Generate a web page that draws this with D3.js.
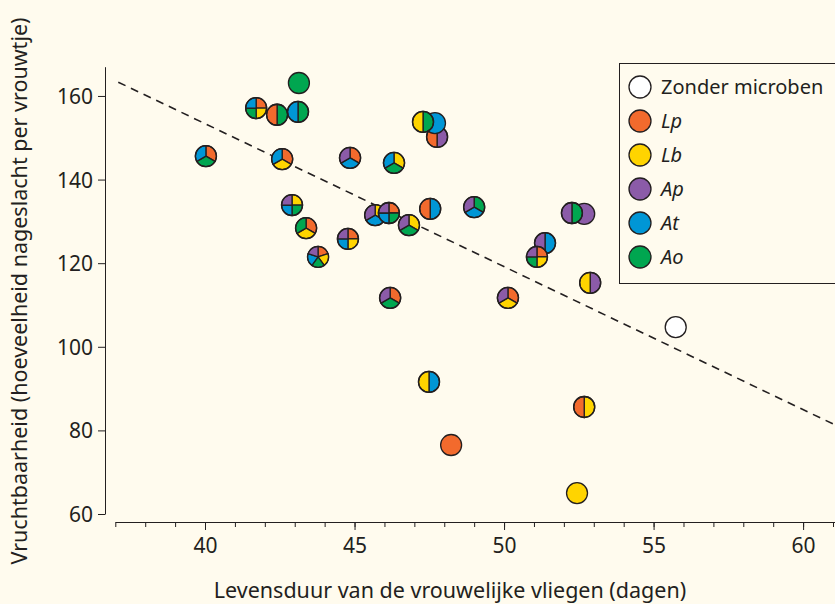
<!DOCTYPE html>
<html>
<head>
  <meta charset="utf-8">
  <script src="https://d3js.org/d3.v7.min.js"></script>
  <style>
    body { margin: 0; background: #fffbee; }
    text { font-family: "Noto Sans", sans-serif; fill: #231f20; }
  </style>
</head>
<body>
<script>
  // lifespan (days) and offspring per female, one entry per fly line
  var lifespan  = [43.14, 41.71, 42.41, 43.11, 40.03, 42.58, 44.85, 46.32, 47.76, 47.69, 47.29,
                   42.91, 43.38, 44.78, 43.78, 46.19, 45.69, 46.15, 46.82, 47.53, 49.00,
                   47.49, 48.23, 52.68, 52.44, 52.68, 52.27, 51.37, 51.10, 52.88, 50.13, 55.74];
  var offspring = [163.1, 157.1, 155.5, 156.2, 145.6, 144.9, 145.2, 144.0, 150.2, 153.5, 153.8,
                   133.9, 128.4, 125.8, 121.5, 111.7, 131.5, 132.0, 129.1, 133.0, 133.4,
                   91.6, 76.5, 85.6, 65.0, 131.8, 132.0, 124.8, 121.5, 115.3, 111.7, 104.7];
  // microbes in each line, clockwise from 12 o'clock
  var mixes = [["Ao"], ["Lp","Lb","Ao","At"], ["Ao","Lp"], ["Ao","At"], ["Lp","Ao","At"],
               ["Lp","Lb","At"], ["Lp","At","Ap"], ["Lb","Ao","At"], ["Ap","Lp"], ["At"], ["Ao","Lb"],
               ["Lb","Ao","At","Ap"], ["Lp","Lb","Ao"], ["Lp","Lb","At","Ap"], ["Lp","Lb","Ao","At","Ap"],
               ["Lp","Ao","Ap"], ["Lb","At","Ap"], ["Lp","Ao","At","Ap"], ["Lb","Ao","Ap"], ["At","Lp"],
               ["Ao","At","Ap"], ["At","Lb"], ["Lp"], ["Lb","Lp"], ["Lb"], ["Ap"], ["Ao","Ap"],
               ["At","Ap"], ["Lp","Lb","Ao","Ap"], ["Ap","Lb"], ["Lp","Lb","Ap"], ["none"]];

  var legendKeys   = ["none", "Lp", "Lb", "Ap", "At", "Ao"];
  var legendLabels = ["Zonder microben", "Lp", "Lb", "Ap", "At", "Ao"];
  var colours = {none: "#ffffff", Lp: "#f26a2d", Lb: "#ffd400", Ap: "#8b5ba8", At: "#0096d6", Ao: "#00a650"};

  // dashed trend line end points (days, offspring)
  var trendX = [37.1, 61.1];
  var trendY = [163.3, 81.2];

  var xTicks = [40, 45, 50, 55, 60];
  var yTicks = [60, 80, 100, 120, 140, 160];

  var width = 835, height = 604, r = 10.5;
  var ink = "#231f20";

  var svg = d3.select("body").append("svg")
      .attr("width", width)
      .attr("height", height);

  svg.append("rect").attr("width", width).attr("height", height).attr("fill", "#fffbee");

  var x = d3.scaleLinear().domain([37, 61.1]).range([115.3, 836]);
  var y = d3.scaleLinear().domain([60, 167]).range([514, 66.7]);

  // x axis: minor ticks every day, labelled ticks every 5
  var xAxisY = 522;
  var gx = svg.append("g").attr("transform", "translate(0," + xAxisY + ")");
  gx.call(d3.axisBottom(x).tickValues(d3.range(37, 62)).tickSize(5).tickSizeOuter(0).tickFormat(""));
  var gx2 = svg.append("g").attr("transform", "translate(0," + xAxisY + ")");
  gx2.call(d3.axisBottom(x).tickValues(xTicks).tickSize(8).tickSizeOuter(0).tickPadding(8));
  gx2.select(".domain").remove();
  svg.selectAll("g .tick line, g .domain").attr("stroke", ink);
  gx2.selectAll("text").style("font-size", "21px").attr("fill", ink);

  var gy = svg.append("g").attr("transform", "translate(105,0)");
  gy.call(d3.axisLeft(y).tickValues(yTicks).tickSize(7).tickSizeOuter(0).tickPadding(5));
  gy.selectAll("line, .domain").attr("stroke", ink);
  gy.selectAll("text").style("font-size", "21px").attr("fill", ink).attr("dy", "0.36em");

  svg.append("text")
      .attr("x", 450).attr("y", 598)
      .attr("text-anchor", "middle")
      .style("font-size", "21.5px")
      .text("Levensduur van de vrouwelijke vliegen (dagen)");

  svg.append("text")
      .attr("transform", "translate(27,291) rotate(-90)")
      .attr("text-anchor", "middle")
      .style("font-size", "21.5px")
      .text("Vruchtbaarheid (hoeveelheid nageslacht per vrouwtje)");

  // trend line
  svg.append("line")
      .attr("x1", x(trendX[0])).attr("y1", y(trendY[0]))
      .attr("x2", x(trendX[1])).attr("y2", y(trendY[1]))
      .attr("stroke", ink)
      .attr("stroke-width", 1.6)
      .attr("stroke-dasharray", "8,6");

  // pie markers
  var pie = d3.pie().sort(null).value(function() { return 1; });
  var arc = d3.arc().innerRadius(0).outerRadius(r);

  var pts = lifespan.map(function(d, i) { return {x: d, y: offspring[i], mix: mixes[i]}; });

  var marker = svg.selectAll("g.marker").data(pts).enter().append("g")
      .attr("class", "marker")
      .attr("transform", function(d) { return "translate(" + x(d.x) + "," + y(d.y) + ")"; });

  marker.each(function(d) {
    var g = d3.select(this);
    if (d.mix.length == 1) {
      g.append("circle").attr("r", r).attr("fill", colours[d.mix[0]]);
    } else {
      g.selectAll("path").data(pie(d.mix)).enter().append("path")
          .attr("d", arc)
          .attr("fill", function(s) { return colours[s.data]; })
          .attr("stroke", ink)
          .attr("stroke-width", 1.3)
          .attr("stroke-linejoin", "round");
    }
    g.append("circle").attr("r", r).attr("fill", "none")
        .attr("stroke", ink).attr("stroke-width", 1.3);
  });

  // legend
  var legend = svg.append("g");
  legend.append("rect")
      .attr("x", 619.5).attr("y", 63.5)
      .attr("width", 230).attr("height", 220)
      .attr("fill", "#fffbee")
      .attr("stroke", ink)
      .attr("stroke-width", 1);

  legendKeys.forEach(function(k, i) {
    var cy = 87 + i * 34;
    legend.append("circle")
        .attr("cx", 640).attr("cy", cy).attr("r", 11)
        .attr("fill", colours[k]).attr("stroke", ink).attr("stroke-width", 1.3);
    legend.append("text")
        .attr("x", 661).attr("y", cy + 7)
        .style("font-size", "20px")
        .style("font-style", i == 0 ? "normal" : "italic")
        .text(legendLabels[i]);
  });
</script>
</body>
</html>
